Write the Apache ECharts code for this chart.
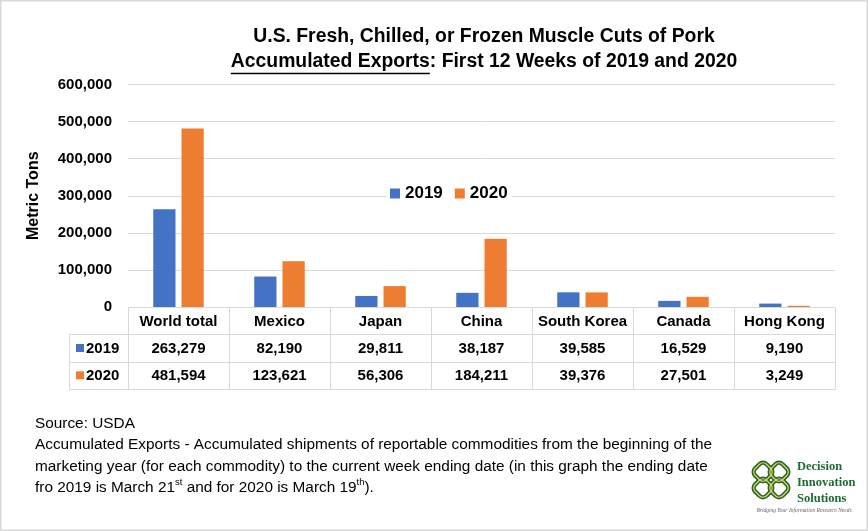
<!DOCTYPE html>
<html>
<head>
<meta charset="utf-8">
<script src="https://cdn.jsdelivr.net/npm/echarts/dist/echarts.min.js"></script>
<style>
html,body{margin:0;padding:0;background:#fff;}
#chart{width:868px;height:531px;}
</style>
</head>
<body>
<div id="chart"></div>
<script>
// ---- data ----
const categories = ['World total', 'Mexico', 'Japan', 'China', 'South Korea', 'Canada', 'Hong Kong'];
const seriesNames = ['2019', '2020'];
const values2019 = [263279, 82190, 29811, 38187, 39585, 16529, 9190];
const values2020 = [481594, 123621, 56306, 184211, 39376, 27501, 3249];
const yTicks = [0, 100000, 200000, 300000, 400000, 500000, 600000];
const tableRows = ['header', '2019', '2020'];

const BLUE = '#4472C4', ORANGE = '#ED7D31', GRID = '#d9d9d9';
const FONT = 'Liberation Sans';

const fmt = v => v.toLocaleString('en-US');

// measure text
const mctx = document.createElement('canvas').getContext('2d');
function textW(t, font){ mctx.font = font; return mctx.measureText(t).width; }
function fitSize(t, weight, target){ const w = textW(t, weight + ' 20px "' + FONT + '"'); return 20 * target / w; }

const title1 = 'U.S. Fresh, Chilled, or Frozen Muscle Cuts of Pork';
const tSize = fitSize(title1, 'bold', 462);
const tFont = 'bold ' + tSize.toFixed(2) + 'px "' + FONT + '"';
const part1 = 'Accumulated Exports', part2 = ': First 12 Weeks of 2019 and 2020';
const w1 = textW(part1, tFont), w2 = textW(part2, tFont);
const titleCX = 484;
const line2Left = titleCX - (w1 + w2) / 2;

const srcLine2 = 'Accumulated Exports - Accumulated shipments of reportable commodities from the beginning of the';
const sSize = fitSize(srcLine2, 'normal', 677);
const sFont = sSize.toFixed(2) + 'px "' + FONT + '"';

const tableData = [];
for (let r = 0; r < tableRows.length; r++) {
  for (let c = 0; c < categories.length; c++) tableData.push([c, r]);
}
const rowValues = [null, values2019, values2020];
const rowColors = [null, BLUE, ORANGE];

function crispRect(x0, y0, w, h) {
  const xa = Math.round(x0), ya = Math.round(y0);
  const xb = Math.round(x0 + w), yb = Math.round(y0 + h);
  return {x: xa + 0.5, y: ya + 0.5, width: xb - xa, height: yb - ya};
}

const chart = echarts.init(document.getElementById('chart'), null, {renderer: 'canvas'});
const option = {
  animation: false,
  backgroundColor: '#fff',
  legend: {
    data: seriesNames,
    left: 386, top: 183,
    itemWidth: 10, itemHeight: 10, itemGap: 12,
    icon: 'rect',
    backgroundColor: '#fff',
    padding: [2, 4],
    textStyle: {fontFamily: FONT, fontWeight: 'bold', fontSize: 17, color: '#000'}
  },
  grid: [
    {left: 128, right: 33, top: 84.5, height: 222.5, containLabel: false},
    {left: 128, right: 33, top: 307, height: 82, containLabel: false}
  ],
  xAxis: [
    {type: 'category', gridIndex: 0, data: categories,
     axisLine: {show: false}, axisTick: {show: false}, axisLabel: {show: false}},
    {type: 'category', gridIndex: 1, data: categories, show: false}
  ],
  yAxis: [
    {type: 'value', gridIndex: 0, min: 0, max: 600000, interval: 100000,
     name: 'Metric Tons', nameLocation: 'middle', nameRotate: 90, nameGap: 86,
     nameTextStyle: {fontFamily: FONT, fontWeight: 'bold', fontSize: 16, color: '#000'},
     axisLine: {show: false}, axisTick: {show: false},
     axisLabel: {margin: 16, fontFamily: FONT, fontWeight: 'bold', fontSize: 15, color: '#000',
       formatter: v => fmt(v)},
     splitLine: {lineStyle: {color: GRID, width: 1}}},
    {type: 'category', gridIndex: 1, data: tableRows, inverse: true, show: false}
  ],
  series: [
    {name: seriesNames[0], type: 'bar', xAxisIndex: 0, yAxisIndex: 0, data: values2019,
     itemStyle: {color: BLUE}, barCategoryGap: '50%', barGap: '27%'},
    {name: seriesNames[1], type: 'bar', xAxisIndex: 0, yAxisIndex: 0, data: values2020,
     itemStyle: {color: ORANGE}, barCategoryGap: '50%', barGap: '27%'},
    {type: 'custom', xAxisIndex: 1, yAxisIndex: 1, data: tableData, clip: false, silent: true,
     renderItem: function (params, api) {
       const c = api.value(0), r = api.value(1);
       const pt = api.coord([c, r]);
       const sz = api.size([1, 1]);
       const x0 = pt[0] - sz[0] / 2, y0 = pt[1] - sz[1] / 2;
       const text = r === 0 ? categories[c] : fmt(rowValues[r][c]);
       const children = [
         {type: 'rect', shape: crispRect(x0, y0, sz[0], sz[1]),
          style: {fill: 'none', stroke: GRID, lineWidth: 1}},
         {type: 'text', style: {x: pt[0], y: pt[1] + 1, text: text, align: 'center', verticalAlign: 'middle',
          font: 'bold 15px "' + FONT + '"', fill: '#000'}}
       ];
       if (c === 0 && r > 0) {
         const lw = 59;
         children.push(
           {type: 'rect', shape: crispRect(x0 - lw, y0, lw, sz[1]),
            style: {fill: 'none', stroke: GRID, lineWidth: 1}},
           {type: 'rect', shape: {x: x0 - lw + 7, y: pt[1] - 4, width: 8, height: 8}, style: {fill: rowColors[r]}},
           {type: 'text', style: {x: x0 - lw + 17, y: pt[1] + 1, text: tableRows[r], align: 'left', verticalAlign: 'middle',
            font: 'bold 15px "' + FONT + '"', fill: '#000'}}
         );
       }
       return {type: 'group', children: children};
     }}
  ],
  graphic: [
    {type: 'rect', shape: {x: 0.5, y: 0.5, width: 867, height: 530}, style: {fill: 'none', stroke: GRID, lineWidth: 2}, z: 100},
    {type: 'text', x: titleCX, y: 37, style: {text: title1,
      font: tFont, fill: '#000', align: 'center', verticalAlign: 'middle'}},
    {type: 'text', x: line2Left, y: 62, style: {text: part1 + part2,
      font: tFont, fill: '#000', align: 'left', verticalAlign: 'middle'}},
    {type: 'line', shape: {x1: line2Left, y1: 73.5, x2: line2Left + w1, y2: 73.5}, style: {stroke: '#000', lineWidth: 1.5}},
    {type: 'text', x: 35, y: 413, style: {
      text: 'Source: USDA\n' + srcLine2 + '\nmarketing year (for each commodity) to the current week ending date (in this graph the ending date\nfro 2019 is March 21{sup|st} and for 2020 is March 19{sup|th}).',
      font: sFont, fill: '#000', lineHeight: 21.4, align: 'left', verticalAlign: 'top',
      rich: {sup: {fontSize: 9.5, fontFamily: FONT, verticalAlign: 'top', lineHeight: 21.4, padding: [0, 0, 6, 0]}}}},
    // logo
    {type: 'group', x: 771, y: 480, children: [
      {type: 'rect', rotation: Math.PI / 4, x: -8, y: -8, shape: {x: -8, y: -8, width: 16, height: 16, r: 5}, style: {fill: 'none', stroke: '#1f6b34', lineWidth: 4.5}},
      {type: 'rect', rotation: Math.PI / 4, x: 8, y: -8, shape: {x: -8, y: -8, width: 16, height: 16, r: 5}, style: {fill: 'none', stroke: '#1f6b34', lineWidth: 4.5}},
      {type: 'rect', rotation: Math.PI / 4, x: -8, y: 8, shape: {x: -8, y: -8, width: 16, height: 16, r: 5}, style: {fill: 'none', stroke: '#1f6b34', lineWidth: 4.5}},
      {type: 'rect', rotation: Math.PI / 4, x: 8, y: 8, shape: {x: -8, y: -8, width: 16, height: 16, r: 5}, style: {fill: 'none', stroke: '#1f6b34', lineWidth: 4.5}},
      {type: 'rect', rotation: Math.PI / 4, x: -8, y: -8, shape: {x: -8, y: -8, width: 16, height: 16, r: 5}, style: {fill: 'none', stroke: '#f3cf5a', lineWidth: 1.2}},
      {type: 'rect', rotation: Math.PI / 4, x: 8, y: -8, shape: {x: -8, y: -8, width: 16, height: 16, r: 5}, style: {fill: 'none', stroke: '#f3cf5a', lineWidth: 1.2}},
      {type: 'rect', rotation: Math.PI / 4, x: -8, y: 8, shape: {x: -8, y: -8, width: 16, height: 16, r: 5}, style: {fill: 'none', stroke: '#f3cf5a', lineWidth: 1.2}},
      {type: 'rect', rotation: Math.PI / 4, x: 8, y: 8, shape: {x: -8, y: -8, width: 16, height: 16, r: 5}, style: {fill: 'none', stroke: '#f3cf5a', lineWidth: 1.2}}
    ]},
    {type: 'text', x: 797, y: 459, style: {text: 'Decision\nInnovation\nSolutions', font: 'bold 12.5px "Liberation Serif"', fill: '#1f6b34', lineHeight: 16, align: 'left', verticalAlign: 'top'}},
    {type: 'text', x: 804, y: 511, style: {text: 'Bridging Your Information Research Needs', font: 'italic 5.5px "Liberation Serif"', fill: '#666', align: 'center', verticalAlign: 'middle'}}
  ]
};
chart.setOption(option);
</script>
</body>
</html>
